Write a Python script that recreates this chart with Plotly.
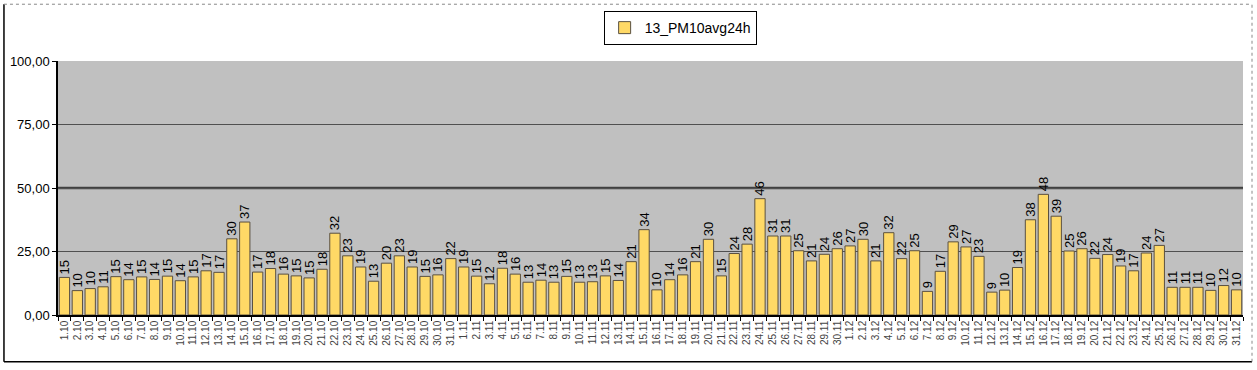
import plotly.graph_objects as go

oct_vals = [14.8, 9.6, 10.4, 11.1, 15.1, 13.9, 15.0, 14.0, 15.3, 13.5, 15.0, 17.4, 16.8, 30.0, 36.6,
            16.9, 18.3, 16.1, 15.4, 14.6, 18.0, 32.2, 23.3, 18.9, 13.3, 20.4, 23.3, 18.9, 15.2, 15.8, 22.2]
nov_vals = [18.9, 15.3, 12.3, 18.4, 16.1, 12.9, 13.7, 12.9, 15.2, 12.9, 13.1, 15.4, 13.6, 21.0, 33.6,
            9.9, 13.9, 15.8, 21.0, 29.8, 15.4, 24.2, 27.9, 45.8, 31.1, 31.1, 25.3, 21.3, 23.9, 26.1]
dec_vals = [27.2, 29.8, 21.3, 32.4, 22.2, 25.3, 9.3, 17.2, 28.8, 26.8, 23.1, 9.0, 9.8, 18.7, 37.5,
            47.5, 38.9, 25.2, 26.1, 22.3, 23.8, 19.3, 17.4, 24.4, 27.4, 10.9, 10.9, 10.9, 9.7, 11.6, 9.9]

values = oct_vals + nov_vals + dec_vals
labels = ([f"{d}.10" for d in range(1, 32)] + [f"{d}.11" for d in range(1, 31)]
          + [f"{d}.12" for d in range(1, 32)])
series_name = "13_PM10avg24h"
y_ticks = [0, 25, 50, 75, 100]
y_tick_text = ["0,00", "25,00", "50,00", "75,00", "100,00"]

fig = go.Figure()
fig.add_trace(go.Bar(
    x=labels, y=values, name=series_name,
    marker=dict(color="#FFD966", line=dict(color="#5a5040", width=1)),
    text=values, texttemplate="%{y:.0f}", textposition="outside", textangle=-90,
    constraintext="none",
    textfont=dict(family="Liberation Sans, Arial", size=13, color="#000000"),
    cliponaxis=False, showlegend=True,
))

shapes = [
    dict(type="line", xref="paper", yref="y", x0=0, x1=1, y0=50, y1=50,
         line=dict(color="#404040", width=2.5), layer="below"),
    dict(type="line", xref="paper", yref="paper", x0=-0.0456, x1=-0.0456, y0=-0.184, y1=1.2235,
         line=dict(color="#000000", width=1.5)),
    dict(type="line", xref="paper", yref="paper", x0=-0.0456, x1=1.0076, y0=-0.184, y1=-0.184,
         line=dict(color="#000000", width=1.5)),
    dict(type="line", xref="paper", yref="paper", x0=-0.0456, x1=1.0076, y0=1.2235, y1=1.2235,
         line=dict(color="#888888", width=1, dash="dot")),
    dict(type="line", xref="paper", yref="paper", x0=1.0076, x1=1.0076, y0=-0.184, y1=1.2235,
         line=dict(color="#888888", width=1, dash="dot")),
]

fig.update_layout(
    width=1257, height=370,
    margin=dict(l=58, r=14, t=60, b=55),
    paper_bgcolor="#FFFFFF", plot_bgcolor="#C0C0C0",
    bargap=0.2,
    uniformtext=dict(minsize=13, mode="show"),
    font=dict(family="Liberation Sans, Arial", color="#000000"),
    shapes=shapes,
    legend=dict(x=0.525, y=1.192, xanchor="center", yanchor="top",
                bordercolor="#000000", borderwidth=1, bgcolor="#FFFFFF",
                font=dict(size=14), orientation="h", itemwidth=30),
    xaxis=dict(type="category", tickangle=-90, tickfont=dict(size=10, color="#444444"),
               showline=True, linecolor="#000000", linewidth=1.5,
               ticks="outside", ticklen=4, tickcolor="#000000", tickson="boundaries",
               showgrid=False, range=[-0.5, len(labels) - 0.5], automargin=False),
    yaxis=dict(range=[0, 100], tickvals=y_ticks, ticktext=y_tick_text,
               tickfont=dict(size=13, color="#000000"),
               showline=True, linecolor="#000000", linewidth=1.5,
               ticks="outside", ticklen=4, tickcolor="#000000",
               showgrid=True, gridcolor="#505050", gridwidth=1, zeroline=False,
               automargin=False),
)

fig.write_html("out.html", config={"displayModeBar": False},
               post_script="document.body.style.margin='0';")
